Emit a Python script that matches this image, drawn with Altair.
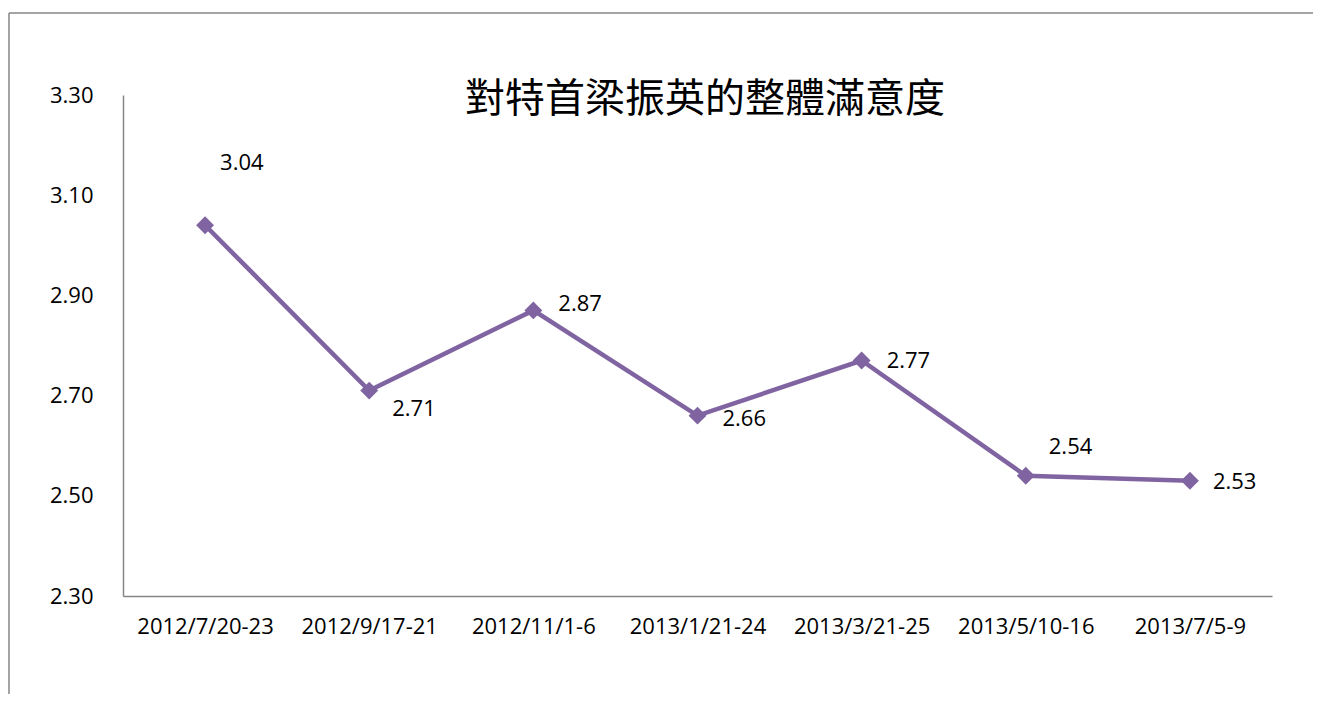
import altair as alt
import pandas as pd

categories = ["2012/7/20-23", "2012/9/17-21", "2012/11/1-6", "2013/1/21-24",
              "2013/3/21-25", "2013/5/10-16", "2013/7/5-9"]
values = [3.04, 2.71, 2.87, 2.66, 2.77, 2.54, 2.53]
y_ticks = [2.30, 2.50, 2.70, 2.90, 3.10, 3.30]
title_text = "對特首梁振英的整體滿意度"

df = pd.DataFrame({"period": categories, "score": values})

W, H = 1149, 501
FONT = "Open Sans"
PURPLE = "#8064A2"
GRAY = "#868686"

x_enc = alt.X("period:O", sort=categories,
              scale=alt.Scale(type="point", padding=0.5),
              axis=alt.Axis(title=None, labelAngle=0, ticks=False, domainColor=GRAY,
                            domainWidth=1.5, labelFont=FONT, labelFontSize=22,
                            labelColor="black", labelPadding=20, grid=False))
y_enc = alt.Y("score:Q", scale=alt.Scale(domain=[2.3, 3.3], nice=False, zero=False),
              axis=alt.Axis(title=None, values=y_ticks, format=".2f", ticks=False,
                            domainColor=GRAY, domainWidth=1.5, labelFont=FONT,
                            labelFontSize=22, labelColor="black", labelPadding=30,
                            grid=False))

base = alt.Chart(df)
one = pd.DataFrame({"a": [0]})

frame_top = alt.Chart(one).mark_rule(color=GRAY, strokeWidth=1.5, clip=False).encode(
    x=alt.value(-114), x2=alt.value(W + 60), y=alt.value(-82))
frame_left = alt.Chart(one).mark_rule(color=GRAY, strokeWidth=1.5, clip=False).encode(
    x=alt.value(-114), y=alt.value(-82), y2=alt.value(H + 140))

line = base.mark_line(color=PURPLE, strokeWidth=4.5).encode(x=x_enc, y=y_enc)
points = base.mark_point(shape="diamond", filled=True, size=320, color=PURPLE,
                         opacity=1).encode(x=x_enc, y=y_enc)

offsets = {
    "2012/7/20-23": (15, -62),
    "2012/9/17-21": (23, 18),
    "2012/11/1-6": (25, -6),
    "2013/1/21-24": (25, 3),
    "2013/3/21-25": (25, 0),
    "2013/5/10-16": (23, -29),
    "2013/7/5-9": (23, 1),
}
labels = []
for cat, (dx, dy) in offsets.items():
    labels.append(
        base.transform_filter(alt.datum.period == cat)
        .mark_text(align="left", baseline="middle", dx=dx, dy=dy, font=FONT,
                   fontSize=22, color="black")
        .encode(x=x_enc, y=y_enc, text=alt.Text("score:Q", format=".2f"))
    )

title = alt.Chart(pd.DataFrame({"t": [title_text]})).mark_text(
    font="Noto Sans CJK TC", fontSize=40, color="black", align="center",
    baseline="middle", clip=False
).encode(x=alt.value(582), y=alt.value(5), text="t:N")

chart = alt.layer(frame_top, frame_left, line, points, *labels, title).properties(
    width=W, height=H,
    autosize=alt.AutoSizeParams(type="none"),
    padding={"left": 115, "top": 87, "right": 41, "bottom": 98},
).configure_view(stroke=None)

chart.save("out.html", embed_options={"renderer": "svg", "actions": False})
